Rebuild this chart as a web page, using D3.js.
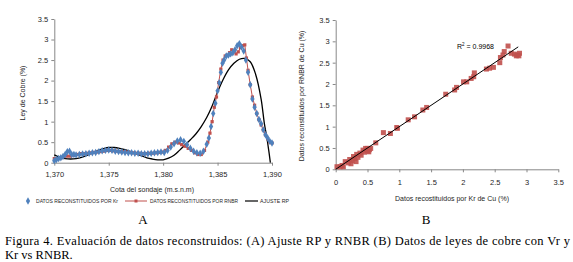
<!DOCTYPE html>
<html><head><meta charset="utf-8">
<script src="https://cdnjs.cloudflare.com/ajax/libs/d3/7.8.5/d3.min.js"></script>
<style>body{margin:0;background:#fff}svg{display:block}</style>
</head><body>
<svg id="c" width="573" height="262"></svg>
<script>
// ---- Chart A data ----
const krX = [1370.0,1370.2,1370.4,1370.6,1370.8,1371.0,1371.2,1371.4,1371.6,1371.8,1372.0,1372.3,1372.6,1372.9,1373.2,1373.5,1373.8,1374.1,1374.4,1374.7,1375.0,1375.3,1375.6,1375.9,1376.2,1376.5,1376.8,1377.1,1377.4,1377.7,1378.0,1378.3,1378.6,1378.9,1379.2,1379.5,1379.8,1380.1,1380.4,1380.7,1381.0,1381.3,1381.6,1381.9,1382.2,1382.5,1382.8,1383.1,1383.4,1383.7,1384.0,1384.2,1384.4,1384.6,1384.8,1385.0,1385.15,1385.3,1385.45,1385.6,1385.8,1386.0,1386.2,1386.4,1386.6,1386.8,1387.0,1387.2,1387.4,1387.6,1387.8,1388.0,1388.2,1388.4,1388.6,1388.8,1389.0,1389.2,1389.4,1389.6,1389.8,1390.0];
const krY = [0.05,0.08,0.10,0.12,0.15,0.20,0.27,0.28,0.20,0.20,0.19,0.20,0.21,0.22,0.23,0.24,0.25,0.27,0.29,0.30,0.31,0.30,0.28,0.27,0.26,0.25,0.24,0.24,0.23,0.23,0.22,0.22,0.22,0.23,0.24,0.25,0.26,0.25,0.30,0.38,0.46,0.53,0.56,0.52,0.44,0.35,0.28,0.24,0.23,0.28,0.45,0.60,0.88,1.20,1.45,1.75,1.95,2.20,2.42,2.50,2.60,2.62,2.65,2.68,2.75,2.85,2.90,2.82,2.72,2.50,2.20,1.90,1.55,1.35,1.20,1.05,0.95,0.80,0.68,0.60,0.52,0.48];
const rnbrX = [1370.0,1370.3,1370.6,1370.9,1371.2,1371.5,1371.8,1372.1,1372.4,1372.7,1373.0,1373.3,1373.6,1373.9,1374.2,1374.5,1374.8,1375.1,1375.4,1375.7,1376.0,1376.3,1376.6,1376.9,1377.2,1377.5,1377.8,1378.1,1378.4,1378.7,1379.0,1379.3,1379.6,1379.9,1380.2,1380.5,1380.8,1381.1,1381.4,1381.7,1382.0,1382.3,1382.6,1382.9,1383.2,1383.5,1383.8,1384.1,1384.3,1384.5,1384.7,1384.9,1385.1,1385.3,1385.5,1385.7,1385.9,1386.1,1386.3,1386.5,1386.7,1386.9,1387.1,1387.3,1387.5,1387.65,1387.8,1388.0,1388.2,1388.4,1388.6,1388.8,1389.0,1389.2,1389.4,1389.6,1389.8,1390.0];
const rnbrY = [0.10,0.10,0.12,0.15,0.16,0.16,0.18,0.20,0.22,0.22,0.23,0.24,0.25,0.26,0.27,0.28,0.30,0.30,0.29,0.28,0.27,0.27,0.26,0.25,0.24,0.23,0.23,0.22,0.22,0.23,0.23,0.24,0.25,0.26,0.30,0.38,0.46,0.50,0.48,0.44,0.40,0.35,0.30,0.24,0.20,0.20,0.30,0.50,0.72,1.00,1.35,1.60,1.95,2.28,2.50,2.60,2.62,2.68,2.75,2.70,2.65,2.70,2.80,2.85,2.87,2.55,2.25,1.90,1.60,1.40,1.20,1.05,0.92,0.80,0.68,0.58,0.50,0.48];
const rpX = [1370.0,1370.5,1371.0,1371.5,1372.0,1372.5,1373.0,1373.5,1374.0,1374.5,1375.0,1375.5,1376.0,1376.5,1377.0,1377.5,1378.0,1378.5,1379.0,1379.5,1380.0,1380.5,1381.0,1381.5,1382.0,1382.5,1383.0,1383.5,1384.0,1384.5,1385.0,1385.5,1386.0,1386.5,1387.0,1387.5,1388.0,1388.5,1389.0,1389.3,1389.5,1389.7,1389.85];
const rpY = [0.19,0.13,0.10,0.09,0.10,0.13,0.18,0.24,0.30,0.34,0.37,0.37,0.35,0.32,0.27,0.22,0.17,0.12,0.09,0.07,0.07,0.11,0.18,0.30,0.43,0.56,0.70,0.88,1.10,1.38,1.72,2.02,2.26,2.42,2.52,2.54,2.46,2.15,1.55,0.95,0.65,0.30,0.0];
const xTicksA = [1370,1375,1380,1385,1390];
const yTicks = [0,0.5,1,1.5,2,2.5,3,3.5];

// ---- Chart B data ----
const bX = [0.02,0.07,0.12,0.10,0.15,0.20,0.22,0.24,0.26,0.28,0.30,0.33,0.32,0.35,0.38,0.40,0.43,0.45,0.47,0.50,0.52,0.53,0.55,0.50,0.63,0.75,0.86,0.97,0.96,1.14,1.24,1.37,1.43,1.73,1.87,1.90,2.01,2.06,2.13,2.17,2.18,2.37,2.42,2.48,2.58,2.59,2.63,2.65,2.71,2.76,2.81,2.86,2.89,2.88,2.84];
const bY = [0.06,0.06,0.06,0.09,0.18,0.15,0.23,0.13,0.20,0.30,0.25,0.35,0.18,0.28,0.38,0.33,0.45,0.40,0.49,0.49,0.41,0.46,0.49,0.43,0.62,0.86,0.84,0.96,0.98,1.16,1.23,1.39,1.45,1.76,1.86,1.92,2.05,2.05,2.13,2.17,2.26,2.35,2.37,2.39,2.50,2.62,2.68,2.76,2.89,2.72,2.70,2.68,2.72,2.66,2.66];
const fitX = [0, 2.87];
const fitY = [0, 2.87];
const xTicksB = [0,0.5,1,1.5,2,2.5,3,3.5];

const svg = d3.select("#c");
const axisColor = "#888";
const font = "'Liberation Sans', Arial, sans-serif";
const blue = "#4f81bd", red = "#c0504d";
const txt = "#262626";

// ===== Chart A =====
const xA = d3.scaleLinear().domain([1370,1390]).range([54.3,272]);
const yA = d3.scaleLinear().domain([0,3.5]).range([162.7,19]);
const gA = svg.append("g");

const axA = gA.append("g").attr("transform","translate(0,162.7)")
  .call(d3.axisBottom(xA).tickValues(xTicksA).tickFormat(d3.format(",")).tickSize(3).tickSizeOuter(0));
const ayA = gA.append("g").attr("transform","translate(54.3,0)")
  .call(d3.axisLeft(yA).tickValues(yTicks).tickFormat(d=>d3.format("")(d)).tickSize(3).tickSizeOuter(0));
[axA, ayA].forEach(a=>{
  a.select(".domain").attr("stroke",axisColor);
  a.selectAll(".tick line").attr("stroke",axisColor);
  a.selectAll("text").attr("fill",txt).style("font-family",font).style("font-size","7.5px");
});
axA.selectAll("text").attr("dy","1.1em");

const lineA = d3.line().x(d=>xA(d[0])).y(d=>yA(d[1]));
gA.append("path").datum(rpX.map((x,i)=>[x,rpY[i]]))
  .attr("d", lineA.curve(d3.curveCatmullRom)).attr("fill","none").attr("stroke","#000").attr("stroke-width",1.3);
gA.append("path").datum(rnbrX.map((x,i)=>[x,rnbrY[i]]))
  .attr("d", d3.line().x(d=>xA(d[0])).y(d=>yA(d[1]))).attr("fill","none").attr("stroke",red).attr("stroke-width",1);
gA.selectAll(".rs").data(rnbrX.map((x,i)=>[x,rnbrY[i]])).join("rect")
  .attr("x",d=>xA(d[0])-1.6).attr("y",d=>yA(d[1])-1.6).attr("width",3.2).attr("height",3.2).attr("fill",red);
const diamond = d3.symbol().type(d3.symbolDiamond).size(16);
gA.selectAll(".bd").data(krX.map((x,i)=>[x,krY[i]])).join("path")
  .attr("d",diamond).attr("transform",d=>`translate(${xA(d[0])},${yA(d[1])})`).attr("fill",blue);

gA.append("text").attr("x",152).attr("y",192).attr("text-anchor","middle")
  .style("font-family",font).style("font-size","7px").attr("fill",txt).text("Cota del sondaje (m.s.n.m)");
gA.append("text").attr("transform","translate(25,93) rotate(-90)").attr("text-anchor","middle")
  .style("font-family",font).style("font-size","7px").attr("fill",txt).text("Ley de Cobre (%)");

// legend
const lg = gA.append("g").style("font-family",font).style("font-size","5px").attr("fill",txt);
lg.append("path").attr("d",diamond).attr("transform","translate(28,201)").attr("fill",blue);
lg.append("text").attr("x",36).attr("y",202.8).attr("textLength",82).attr("lengthAdjust","spacingAndGlyphs").text("DATOS RECONSTITUIDOS POR Kr");
lg.append("line").attr("x1",125).attr("x2",147).attr("y1",201).attr("y2",201).attr("stroke",red).attr("stroke-width",1);
lg.append("rect").attr("x",134.5).attr("y",199.5).attr("width",3).attr("height",3).attr("fill",red);
lg.append("text").attr("x",150).attr("y",202.8).attr("textLength",88).attr("lengthAdjust","spacingAndGlyphs").text("DATOS RECONSTITUIDOS POR RNBR");
lg.append("line").attr("x1",245).attr("x2",258).attr("y1",201).attr("y2",201).attr("stroke","#000").attr("stroke-width",1.2);
lg.append("text").attr("x",260).attr("y",202.8).attr("textLength",29).attr("lengthAdjust","spacingAndGlyphs").text("AJUSTE RP");

// ===== Chart B =====
const xB = d3.scaleLinear().domain([0,3.5]).range([335.7,558.3]);
const yB = d3.scaleLinear().domain([0,3.5]).range([169.3,20]);
const gB = svg.append("g");
const axB = gB.append("g").attr("transform","translate(0,169.3)")
  .call(d3.axisBottom(xB).tickValues(xTicksB).tickFormat(d=>d3.format("")(d)).tickSize(3).tickSizeOuter(0));
const ayB = gB.append("g").attr("transform","translate(335.7,0)")
  .call(d3.axisLeft(yB).tickValues(yTicks).tickFormat(d=>d3.format("")(d)).tickSize(3).tickSizeOuter(0));
[axB, ayB].forEach(a=>{
  a.select(".domain").attr("stroke",axisColor);
  a.selectAll(".tick line").attr("stroke",axisColor);
  a.selectAll("text").attr("fill",txt).style("font-family",font).style("font-size","7.5px");
});
axB.selectAll("text").attr("dy","1.3em");

gB.selectAll(".sq").data(bX.map((x,i)=>[x,bY[i]])).join("rect")
  .attr("x",d=>xB(d[0])-2.5).attr("y",d=>yB(d[1])-2.5).attr("width",5).attr("height",5).attr("fill",red).attr("opacity",0.9);
gB.append("line").attr("x1",xB(fitX[0])).attr("y1",yB(fitY[0])).attr("x2",xB(fitX[1])).attr("y2",yB(fitY[1]))
  .attr("stroke","#000").attr("stroke-width",1);
const r2 = gB.append("text").attr("x",457).attr("y",48.5).style("font-family",font).style("font-size","7px").attr("fill","#000");
r2.append("tspan").text("R");
r2.append("tspan").attr("dy",-2.5).style("font-size","4.5px").text("2");
r2.append("tspan").attr("dy",2.5).text(" = 0.9968");

gB.append("text").attr("x",452).attr("y",200.5).attr("text-anchor","middle")
  .style("font-family",font).style("font-size","7px").attr("fill",txt).text("Datos recostituidos por Kr de Cu (%)");
gB.append("text").attr("transform","translate(304,96) rotate(-90)").attr("text-anchor","middle")
  .style("font-family",font).style("font-size","7px").attr("fill",txt).text("Datos reconstituidos por RNBR de Cu (%)");

// ===== Labels & caption =====
const serif = "'Liberation Serif', 'Times New Roman', serif";
svg.append("text").attr("x",143).attr("y",224).attr("text-anchor","middle").style("font-family",serif).style("font-size","13px").text("A");
svg.append("text").attr("x",426).attr("y",224).attr("text-anchor","middle").style("font-family",serif).style("font-size","13px").text("B");
svg.append("text").attr("x",5).attr("y",245).attr("textLength",565).attr("lengthAdjust","spacing")
  .style("font-family",serif).style("font-size","12.5px")
  .text("Figura 4. Evaluación de datos reconstruidos: (A) Ajuste RP y RNBR (B) Datos de leyes de cobre  con Vr y");
svg.append("text").attr("x",5).attr("y",259).style("font-family",serif).style("font-size","12.5px").text("Kr vs RNBR.");
</script>
</body></html>
